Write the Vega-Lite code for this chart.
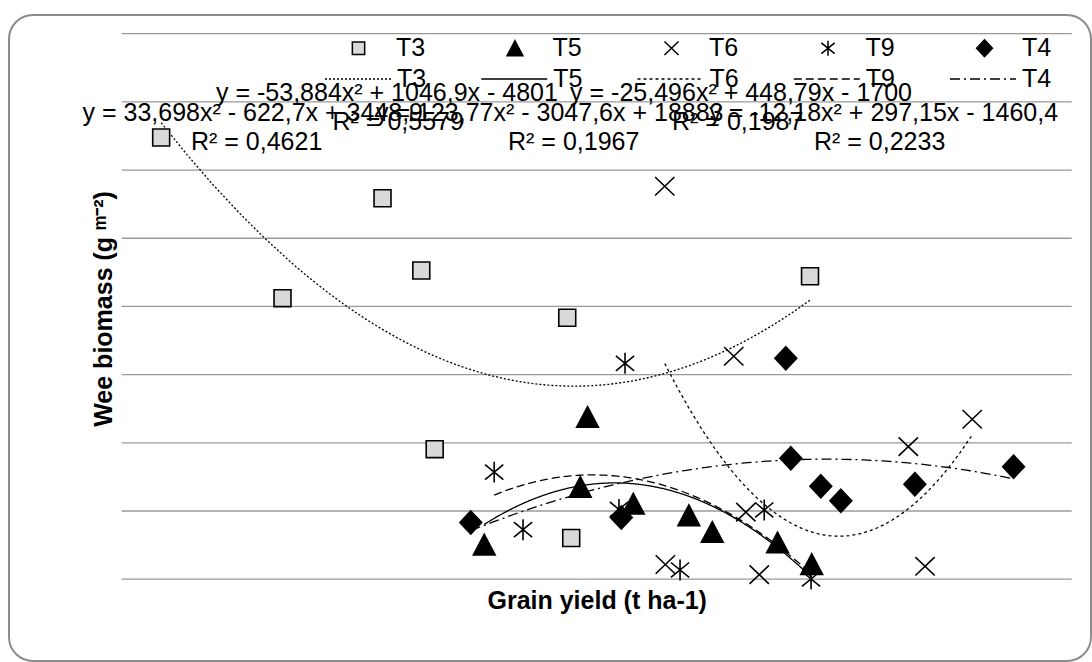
{
  "$schema": "https://vega.github.io/schema/vega-lite/v6.json",
  "width": 1082,
  "height": 646,
  "autosize": {"type": "none"},
  "padding": {"left": 9, "top": 15, "right": 1, "bottom": 1},
  "background": "white",
  "config": {
    "view": {"stroke": "#8c8c8c", "strokeWidth": 2, "cornerRadius": 24},
    "font": "Liberation Sans",
    "axisX": {
      "labels": false, "ticks": false, "domain": false, "grid": false,
      "titleFont": "Liberation Sans", "titleFontSize": 25, "titleFontWeight": "bold", "titleColor": "black",
      "titleX": 587.7, "titleY": -52.7, "titleAlign": "center", "titleBaseline": "alphabetic"
    },
    "axisY": {
      "labels": false, "ticks": false, "domain": false, "grid": false,
      "titleFont": "Liberation Sans", "titleFontSize": 25, "titleFontWeight": "bold", "titleColor": "black",
      "titleX": 102.7, "titleY": 293.5, "titleAngle": -90, "titleAlign": "center", "titleBaseline": "alphabetic"
    }
  },
  "datasets": {
    "points": [
      {"series": "T3", "yield": 4.457, "biomass": 1295.7},
      {"series": "T3", "yield": 5.862, "biomass": 824.3},
      {"series": "T3", "yield": 7.02, "biomass": 1117.3},
      {"series": "T3", "yield": 7.469, "biomass": 905.5},
      {"series": "T3", "yield": 9.159, "biomass": 766.8},
      {"series": "T3", "yield": 7.624, "biomass": 381.3},
      {"series": "T3", "yield": 9.205, "biomass": 120.9},
      {"series": "T3", "yield": 11.97, "biomass": 888.5},
      {"series": "T5", "yield": 9.394, "biomass": 475.8},
      {"series": "T5", "yield": 9.31, "biomass": 270.5},
      {"series": "T5", "yield": 8.198, "biomass": 101.2},
      {"series": "T5", "yield": 9.924, "biomass": 221.5},
      {"series": "T5", "yield": 10.567, "biomass": 187.4},
      {"series": "T5", "yield": 10.838, "biomass": 138.5},
      {"series": "T5", "yield": 11.594, "biomass": 107.7},
      {"series": "T5", "yield": 11.99, "biomass": 44.0},
      {"series": "T6", "yield": 10.288, "biomass": 1152.5},
      {"series": "T6", "yield": 11.087, "biomass": 653.9},
      {"series": "T6", "yield": 13.108, "biomass": 388.7},
      {"series": "T6", "yield": 13.848, "biomass": 469.1},
      {"series": "T6", "yield": 13.302, "biomass": 37.8},
      {"series": "T6", "yield": 11.227, "biomass": 196.5},
      {"series": "T6", "yield": 11.382, "biomass": 13.2},
      {"series": "T6", "yield": 10.295, "biomass": 43.1},
      {"series": "T9", "yield": 9.828, "biomass": 633.3},
      {"series": "T9", "yield": 8.313, "biomass": 313.9},
      {"series": "T9", "yield": 8.647, "biomass": 145.2},
      {"series": "T9", "yield": 9.758, "biomass": 204.5},
      {"series": "T9", "yield": 10.465, "biomass": 27.0},
      {"series": "T9", "yield": 11.44, "biomass": 203.0},
      {"series": "T9", "yield": 11.982, "biomass": 0.6},
      {"series": "T4", "yield": 8.042, "biomass": 166.3},
      {"series": "T4", "yield": 9.785, "biomass": 181.0},
      {"series": "T4", "yield": 11.69, "biomass": 648.0},
      {"series": "T4", "yield": 11.748, "biomass": 354.6},
      {"series": "T4", "yield": 12.095, "biomass": 272.5},
      {"series": "T4", "yield": 12.327, "biomass": 230.0},
      {"series": "T4", "yield": 13.184, "biomass": 278.7},
      {"series": "T4", "yield": 14.327, "biomass": 330.0}
    ],
    "grid": [
      {"v": 0}, {"v": 200}, {"v": 400}, {"v": 600}, {"v": 800},
      {"v": 1000}, {"v": 1200}, {"v": 1400}, {"v": 1600}
    ],
    "eqLeft": [
      {"label": "y = -53,884x² + 1046,9x - 4801", "tx": 5.092, "ty": 1402.8},
      {"label": "y = 33,698x² - 622,7x + 3448,9", "tx": 3.546, "ty": 1344.1},
      {"label": "y = 123,77x² - 3047,6x + 18883", "tx": 6.945, "ty": 1344.1},
      {"label": "R² = 0,5579", "tx": 6.441, "ty": 1317.7},
      {"label": "R² = 0,1987", "tx": 10.372, "ty": 1317.7},
      {"label": "R² = 0,4621", "tx": 4.802, "ty": 1259.0},
      {"label": "R² = 0,1967", "tx": 8.473, "ty": 1259.0},
      {"label": "R² = 0,2233", "tx": 12.016, "ty": 1259.0}
    ],
    "eqRight": [
      {"label": "y = -25,496x² + 448,79x - 1700", "tx": 13.151, "ty": 1402.8},
      {"label": "y = -12,18x² + 297,15x - 1460,4", "tx": 14.842, "ty": 1344.1}
    ]
  },
  "layer": [
    {
      "data": {"name": "grid"},
      "mark": {"type": "rule", "stroke": "#9a9a9a", "strokeWidth": 1.3},
      "encoding": {
        "x": {"datum": 4, "type": "quantitative", "scale": {"domain": [2.695, 15.2235], "nice": false, "zero": false}, "title": "Grain yield (t ha-1)"},
        "x2": {"datum": 15},
        "y": {"field": "v", "type": "quantitative", "scale": {"domain": [-240, 1654.9], "nice": false, "zero": false}, "title": "Wee biomass (g ᵐ⁻²)"}
      }
    },
    {
      "data": {"name": "points"},
      "transform": [
        {"regression": "biomass", "on": "yield", "groupby": ["series"], "method": "poly", "order": 2}
      ],
      "mark": {"type": "line", "stroke": "black", "strokeWidth": 1.3},
      "encoding": {
        "x": {"field": "yield", "type": "quantitative", "scale": {"domain": [2.695, 15.2235], "nice": false, "zero": false}, "title": "Grain yield (t ha-1)"},
        "y": {"field": "biomass", "type": "quantitative", "scale": {"domain": [-240, 1654.9], "nice": false, "zero": false}, "title": "Wee biomass (g ᵐ⁻²)"},
        "strokeDash": {
          "field": "series",
          "type": "nominal",
          "sort": ["T3", "T5", "T6", "T9", "T4"],
          "scale": {"range": [[2, 2], [1, 0], [3, 3], [8, 4], [10, 4, 2, 4]]},
          "legend": {
            "title": null,
            "orient": "none",
            "legendX": 315,
            "legendY": 30,
            "direction": "horizontal",
            "symbolType": "stroke",
            "symbolSize": 4356,
            "symbolStrokeWidth": 1.3,
            "symbolStrokeColor": "black",
            "labelFont": "Liberation Sans",
            "labelFontSize": 25,
            "labelColor": "black",
            "labelOffset": 5,
            "labelLimit": 200,
            "columnPadding": 51.25,
            "padding": 0,
            "encode": {
              "symbols": {"update": {"stroke": {"value": "black"}, "strokeWidth": {"value": 1.3}, "opacity": {"value": 1}}}
            }
          }
        }
      }
    },
    {
      "data": {"name": "points"},
      "mark": {"type": "point", "filled": true, "stroke": "black", "strokeWidth": 1.6, "opacity": 1, "size": 484},
      "encoding": {
        "x": {"field": "yield", "type": "quantitative", "scale": {"domain": [2.695, 15.2235], "nice": false, "zero": false}, "title": "Grain yield (t ha-1)"},
        "y": {"field": "biomass", "type": "quantitative", "scale": {"domain": [-240, 1654.9], "nice": false, "zero": false}, "title": "Wee biomass (g ᵐ⁻²)"},
        "shape": {
          "field": "series", "type": "nominal",
          "scale": {
            "domain": ["T3", "T5", "T6", "T9", "T4"],
            "range": [
              "M-0.77,-0.77L0.77,-0.77L0.77,0.77L-0.77,0.77Z",
              "M0,-0.94L0.99,0.94L-0.99,0.94Z",
              "M-0.88,-0.84L0.88,0.84M-0.88,0.84L0.88,-0.84",
              "M-0.83,-0.68L0.83,0.68M-0.83,0.68L0.83,-0.68M0,-0.95L0,0.95",
              "M0,-1.05L0.99,0L0,1.05L-0.99,0Z"
            ]
          },
          "legend": {
            "title": null,
            "orient": "none",
            "legendX": 337,
            "legendY": 20.5,
            "direction": "horizontal",
            "symbolSize": 256,
            "labelFont": "Liberation Sans",
            "labelFontSize": 25,
            "labelColor": "black",
            "labelOffset": 25,
            "labelLimit": 200,
            "columnPadding": 76.5,
            "padding": 0,
            "encode": {
              "symbols": {"update": {"stroke": {"value": "black"}, "strokeWidth": {"value": 1.5}, "opacity": {"value": 1}}}
            }
          }
        },
        "fill": {
          "field": "series", "type": "nominal",
          "scale": {
            "domain": ["T3", "T5", "T6", "T9", "T4"],
            "range": ["#d9d9d9", "black", "transparent", "transparent", "black"]
          },
          "legend": {
            "title": null,
            "orient": "none",
            "legendX": 337,
            "legendY": 20.5,
            "direction": "horizontal",
            "symbolSize": 256,
            "labelFont": "Liberation Sans",
            "labelFontSize": 25,
            "labelColor": "black",
            "labelOffset": 25,
            "labelLimit": 200,
            "columnPadding": 76.5,
            "padding": 0,
            "encode": {
              "symbols": {"update": {"stroke": {"value": "black"}, "strokeWidth": {"value": 1.5}, "opacity": {"value": 1}}}
            }
          }
        }
      }
    },
    {
      "data": {"name": "eqLeft"},
      "mark": {"type": "text", "align": "left", "baseline": "alphabetic", "font": "Liberation Sans", "fontSize": 25, "color": "black"},
      "encoding": {
        "x": {"field": "tx", "type": "quantitative", "scale": {"domain": [2.695, 15.2235], "nice": false, "zero": false}, "title": "Grain yield (t ha-1)"},
        "y": {"field": "ty", "type": "quantitative", "scale": {"domain": [-240, 1654.9], "nice": false, "zero": false}, "title": "Wee biomass (g ᵐ⁻²)"},
        "text": {"field": "label"}
      }
    },
    {
      "data": {"name": "eqRight"},
      "mark": {"type": "text", "align": "right", "baseline": "alphabetic", "font": "Liberation Sans", "fontSize": 25, "color": "black"},
      "encoding": {
        "x": {"field": "tx", "type": "quantitative", "scale": {"domain": [2.695, 15.2235], "nice": false, "zero": false}, "title": "Grain yield (t ha-1)"},
        "y": {"field": "ty", "type": "quantitative", "scale": {"domain": [-240, 1654.9], "nice": false, "zero": false}, "title": "Wee biomass (g ᵐ⁻²)"},
        "text": {"field": "label"}
      }
    }
  ]
}
